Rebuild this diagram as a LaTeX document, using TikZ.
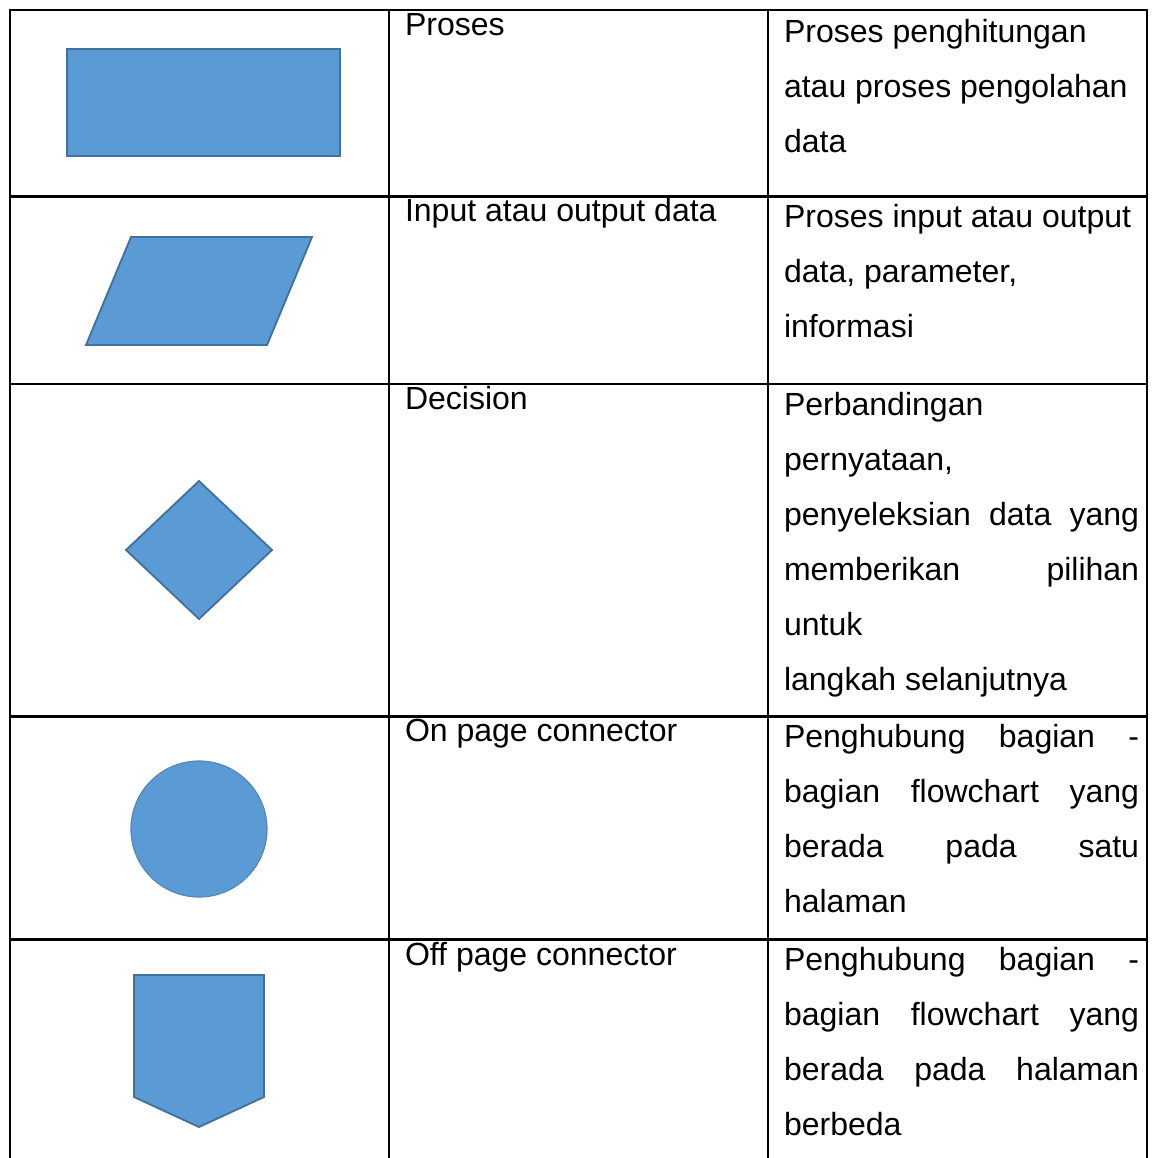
\documentclass[tikz,border=0pt]{standalone}
\usepackage{fontspec}
\setmainfont{Liberation Sans}
\definecolor{shapefill}{HTML}{5B9BD5}
\definecolor{shapeline}{HTML}{41719C}
\definecolor{ringline}{HTML}{5A86B4}
% one drawing unit = 0.381pt
\newlength\colw \setlength\colw{135.3pt}
\newcommand\jl[1]{\hbox to \colw{#1}}
\newcommand\rl[1]{\hbox{#1}}
\tikzset{
  grid/.style={line width=0.85pt, black, line cap=rect},
  symbol/.style={fill=shapefill, draw=shapeline, line width=0.7pt, line join=miter},
  cell/.style={anchor=base west, inner sep=0pt, outer sep=0pt,
    font=\fontsize{12.2}{20.96}\selectfont},
}
\begin{document}
\begin{tikzpicture}[x=0.381pt, y=-0.381pt]
\useasboundingbox (0,0) rectangle (1152,1158);

% table rules
\draw[grid] (10,10) -- (1147,10);
\foreach \yy in {196.5,384,716.5,939.5}
  \draw[grid] (10,\yy) -- (1147,\yy);
\foreach \xx in {10,389,768,1147}
  \draw[grid] (\xx,10) -- (\xx,1160);

% flowchart symbols
\draw[symbol] (67,49) rectangle (340,156);
\draw[symbol] (131,237) -- (312,237) -- (267,345) -- (86,345) -- cycle;
\draw[symbol] (199,481) -- (272,550) -- (199,619) -- (126,550) -- cycle;
\draw[fill=shapefill, draw=ringline, line width=0.45pt] (199,829) circle[radius=68];
\draw[symbol] (134,975) -- (264,975) -- (264,1097) -- (199,1127) -- (134,1097) -- cycle;

% symbol names
\node[cell] (n1) at (405,35)  {Proses};
\node[cell] (n2) at (405,221) {Input atau output data};
\node[cell] (n3) at (405,409) {Decision};
\node[cell] (n4) at (405,741.5) {On page connector};
\node[cell] (n5) at (405,965) {Off page connector};

% descriptions
\node[cell] (d1) at (784,42) {\vtop{\rl{Proses penghitungan}\rl{atau proses pengolahan}\rl{data}}};
\node[cell] (d2) at (784,227) {\vtop{\rl{Proses input atau output}\rl{data, parameter,}\rl{informasi}}};
\node[cell] (d3) at (784,415) {\vtop{\rl{Perbandingan}\rl{pernyataan,}\jl{penyeleksian\hfill data\hfill yang}\jl{memberikan\hfill pilihan}\rl{untuk}\rl{langkah selanjutnya}}};
\node[cell] (d4) at (784,747.5) {\vtop{\jl{Penghubung\hfill bagian\hfill -}\jl{bagian\hfill flowchart\hfill yang}\jl{berada\hfill pada\hfill satu}\rl{halaman}}};
\node[cell] (d5) at (784,970.5) {\vtop{\jl{Penghubung\hfill bagian\hfill -}\jl{bagian\hfill flowchart\hfill yang}\jl{berada\hfill pada\hfill halaman}\rl{berbeda}}};
\end{tikzpicture}
\end{document}
